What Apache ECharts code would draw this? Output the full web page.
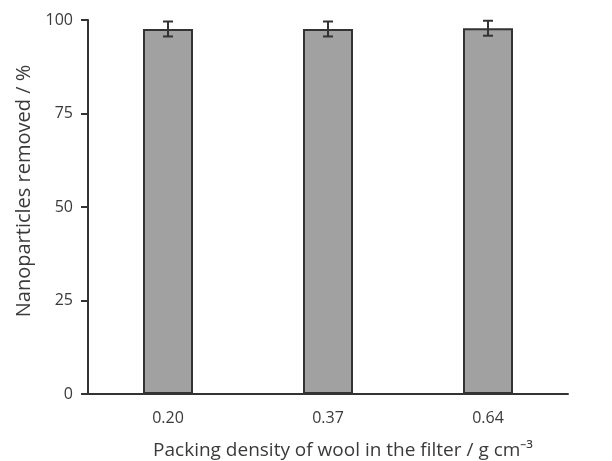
<!DOCTYPE html>
<html>
<head>
<meta charset="utf-8">
<script src="https://cdn.jsdelivr.net/npm/echarts@6/dist/echarts.min.js"></script>
<style>
    html, body { margin: 0; padding: 0; background: #fff; }
    #chart { width: 612px; height: 461px; }
</style>
</head>
<body>
<div id="chart"></div>
<script>
// data
const densities = ['0.20', '0.37', '0.64']
const removed = [97.6, 97.6, 97.8]
const errors = [2.0, 2.0, 2.0]
const yTicks = [0, 25, 50, 75, 100]

const myChart = echarts.init(document.getElementById('chart'))
const font = 'Open Sans'

myChart.setOption({
    animation: false,
    grid: {
        left: 88,
        right: 44,
        top: 20,
        bottom: 67,
        outerBoundsMode: 'none'
    },
    xAxis: {
        type: 'category',
        data: densities,
        name: 'Packing density of wool in the filter / g cm⁻³',
        nameLocation: 'middle',
        nameGap: 47,
        nameTextStyle: { fontFamily: font, fontSize: 19, color: '#3a3a3a', padding: [0, 0, 0, 30] },
        axisLine: { lineStyle: { color: '#333', width: 2 } },
        axisTick: { alignWithLabel: true, length: 7, lineStyle: { color: '#333', width: 2 } },
        axisLabel: { fontFamily: font, fontSize: 16, color: '#3a3a3a', margin: 16 }
    },
    yAxis: {
        type: 'value',
        min: yTicks[0],
        max: yTicks[yTicks.length - 1],
        interval: 25,
        name: 'Nanoparticles removed / %',
        nameLocation: 'middle',
        nameGap: 54,
        nameTextStyle: { fontFamily: font, fontSize: 20, color: '#3a3a3a', padding: [0, 0, 0, 32] },
        splitLine: { show: false },
        axisLine: { show: true, lineStyle: { color: '#333', width: 2 } },
        axisTick: { show: true, length: 7, lineStyle: { color: '#333', width: 2 } },
        axisLabel: { fontFamily: font, fontSize: 16, color: '#3a3a3a', margin: 15 }
    },
    series: [
        {
            type: 'bar',
            data: removed,
            barWidth: 50,
            itemStyle: {
                color: '#a1a1a1',
                borderColor: '#333',
                borderWidth: 2
            }
        },
        {
            // error bars
            type: 'custom',
            data: removed.map((v, i) => [i, v - errors[i], v + errors[i]]),
            renderItem: (params, api) => {
                const lo = api.coord([api.value(0), api.value(1)])
                const hi = api.coord([api.value(0), api.value(2)])
                const hw = 5
                const style = { stroke: '#333', lineWidth: 2 }
                return {
                    type: 'group',
                    children: [
                        { type: 'line', shape: { x1: lo[0], y1: lo[1], x2: hi[0], y2: hi[1] }, style },
                        { type: 'line', shape: { x1: hi[0] - hw, y1: hi[1], x2: hi[0] + hw, y2: hi[1] }, style },
                        { type: 'line', shape: { x1: lo[0] - hw, y1: lo[1], x2: lo[0] + hw, y2: lo[1] }, style }
                    ]
                }
            },
            z: 10
        }
    ]
})
</script>
</body>
</html>
